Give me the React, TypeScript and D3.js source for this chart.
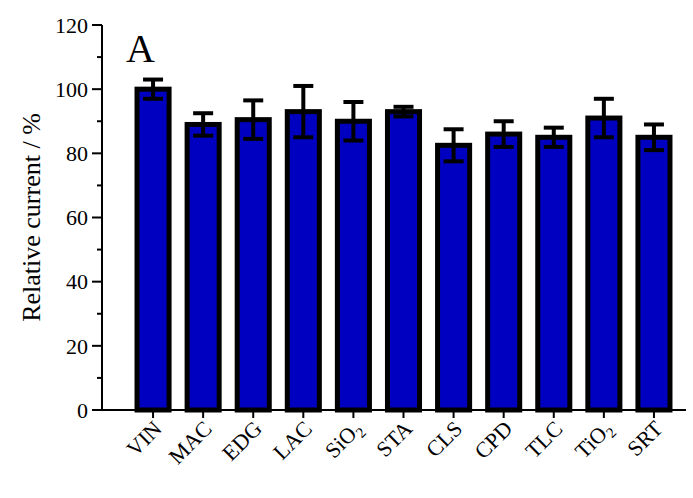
import * as d3 from 'd3';

const categories = ["VIN", "MAC", "EDG", "LAC", "SiO2", "STA", "CLS", "CPD", "TLC", "TiO2", "SRT"];
const values = [100, 89, 90.5, 93, 90, 93, 82.5, 86, 85, 91, 85];
const errors = [3, 3.5, 6, 8, 6, 1.5, 5, 4, 3, 6, 4];
const yTicks = [0, 20, 40, 60, 80, 100, 120];

const font = "Liberation Serif, Times New Roman, serif";

function Label({ name }: { name: string }) {
  const m = name.match(/^(.*?)(\d+)$/);
  if (!m) return <>{name}</>;
  return (
    <>
      {m[1]}
      <tspan fontSize={15} dy={5}>{m[2]}</tspan>
    </>
  );
}

export default function App() {
  const W = 693, H = 498;
  const x = d3.scaleBand().domain(categories).range([128, 679]).paddingInner(0.36).paddingOuter(0.18);
  const y = d3.scaleLinear().domain([0, 120]).range([410, 25]);
  const minor = d3.range(10, 120, 20);
  return (
    <svg width={W} height={H} style={{ position: 'absolute', left: 0, top: 0, fontFamily: font }}>
      {categories.map((c, i) => {
        const cx = x(c)! + x.bandwidth() / 2;
        const top = y(values[i]);
        return (
          <g key={c}>
            <line x1={cx} x2={cx} y1={y(values[i] + errors[i])} y2={y(values[i] - errors[i])} stroke="black" strokeWidth={4} />
            <line x1={cx - 10} x2={cx + 10} y1={y(values[i] + errors[i])} y2={y(values[i] + errors[i])} stroke="black" strokeWidth={4} />
            <rect x={x(c)!} y={top} width={x.bandwidth()} height={y(0) - top} fill="#0000c0" stroke="black" strokeWidth={5} />
            <line x1={cx} x2={cx} y1={top + 2} y2={y(values[i] - errors[i])} stroke="black" strokeWidth={4} />
            <line x1={cx - 10} x2={cx + 10} y1={y(values[i] - errors[i])} y2={y(values[i] - errors[i])} stroke="black" strokeWidth={4} />
          </g>
        );
      })}
      <line x1={102} x2={102} y1={y(120)} y2={y(0) + 1} stroke="black" strokeWidth={2} />
      <line x1={101} x2={686} y1={y(0)} y2={y(0)} stroke="black" strokeWidth={2} />
      {yTicks.map(t => (
        <g key={t}>
          <line x1={92} x2={102} y1={y(t)} y2={y(t)} stroke="black" strokeWidth={2} />
          <text x={88} y={y(t)} dy="0.35em" textAnchor="end" fontSize={22} style={{ fontFamily: font }}>{t}</text>
        </g>
      ))}
      {minor.map(t => (
        <line key={t} x1={97} x2={102} y1={y(t)} y2={y(t)} stroke="black" strokeWidth={2} />
      ))}
      {categories.map(c => {
        const cx = x(c)! + x.bandwidth() / 2;
        return (
          <g key={c}>
            <line x1={cx} x2={cx} y1={y(0)} y2={y(0) + 8} stroke="black" strokeWidth={2} />
            <text transform={`translate(${cx + 10},${y(0) + 20}) rotate(-45)`} textAnchor="end" fontSize={22} style={{ fontFamily: font }}>
              <Label name={c} />
            </text>
          </g>
        );
      })}
      <text transform={`translate(40,${y(60)}) rotate(-90)`} textAnchor="middle" fontSize={26} style={{ fontFamily: font }}>Relative current / %</text>
      <text x={126} y={62} fontSize={40} style={{ fontFamily: font }}>A</text>
    </svg>
  );
}
